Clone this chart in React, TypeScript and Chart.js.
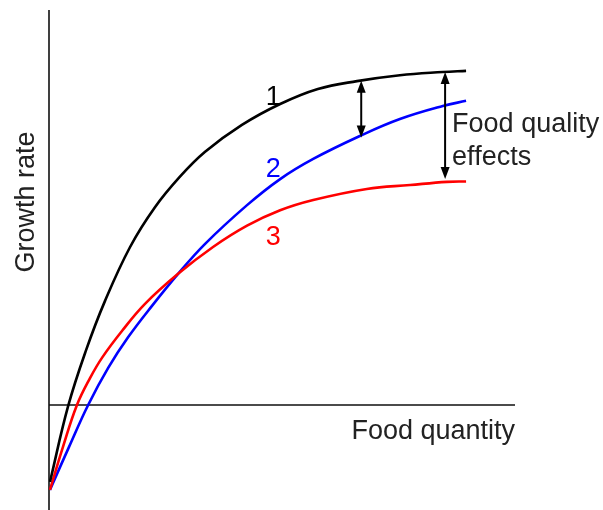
import React, { useEffect, useRef } from "react";
import { Chart, registerables } from "chart.js";

Chart.register(...registerables);

// Curve 1 (black)
const xCurve1 = [0.02, 0.41, 0.79, 1.2, 1.74, 2.27, 2.81, 3.35, 4.14, 4.96, 5.77, 6.61, 7.53, 8.45, 8.95];
const yCurve1 = [-1.95, -0.03, 1.37, 2.63, 4.0, 5.0, 5.78, 6.41, 7.09, 7.62, 8.0, 8.2, 8.35, 8.43, 8.46];

// Curve 2 (blue)
const xCurve2 = [0.02, 0.43, 0.84, 1.27, 1.7, 2.21, 2.77, 3.35, 4.25, 4.96, 5.67, 6.67, 7.53, 8.45, 8.95];
const yCurve2 = [-2.15, -1.06, 0, 0.94, 1.72, 2.51, 3.32, 4.08, 5.06, 5.72, 6.23, 6.81, 7.24, 7.57, 7.7];

// Curve 3 (red)
const xCurve3 = [0.02, 0.3, 0.6, 0.88, 1.14, 1.57, 2.06, 2.77, 3.52, 4.25, 4.96, 5.67, 6.82, 7.75, 8.54, 8.95];
const yCurve3 = [-2.15, -1.06, 0, 0.68, 1.2, 1.88, 2.56, 3.32, 4.0, 4.54, 4.93, 5.19, 5.47, 5.57, 5.65, 5.66];

// Food quality effect arrows
const arrowX = [6.7, 8.5];
const arrowTop = [8.21, 8.43];
const arrowBottom = [6.77, 5.72];

const curveLabels = ["1", "2", "3"];
const xTitle = "Food quantity";
const yTitle = "Growth rate";
const effectLabel = ["Food quality", "effects"];

const toPts = (xs: number[], ys: number[]) => xs.map((x, i) => ({ x, y: ys[i] }));

const FONT = "27px 'Liberation Sans', Arial, sans-serif";
const TEXT = "#222222";

const annotPlugin = {
  id: "annot",
  beforeDatasetsDraw(chart: any) {
    const { ctx, chartArea, scales } = chart;
    const x0 = scales.x.getPixelForValue(0);
    const y0 = scales.y.getPixelForValue(0);
    ctx.save();
    ctx.strokeStyle = "#111";
    ctx.lineWidth = 1.6;
    ctx.beginPath();
    ctx.moveTo(x0, chartArea.top);
    ctx.lineTo(x0, chartArea.bottom);
    ctx.moveTo(x0, y0);
    ctx.lineTo(chartArea.right, y0);
    ctx.stroke();
    ctx.restore();
  },
  afterDatasetsDraw(chart: any) {
    const { ctx, chartArea, scales } = chart;
    const sx = scales.x, sy = scales.y;
    ctx.save();
    ctx.strokeStyle = "#000";
    ctx.fillStyle = "#000";
    ctx.lineWidth = 2;
    const headL = 12, headW = 4.5;
    arrowX.forEach((ax, i) => {
      const px = sx.getPixelForValue(ax);
      const t = sy.getPixelForValue(arrowTop[i]);
      const b = sy.getPixelForValue(arrowBottom[i]);
      ctx.beginPath();
      ctx.moveTo(px, t + headL - 1);
      ctx.lineTo(px, b - headL + 1);
      ctx.stroke();
      ctx.beginPath();
      ctx.moveTo(px, t);
      ctx.lineTo(px - headW, t + headL);
      ctx.lineTo(px + headW, t + headL);
      ctx.closePath();
      ctx.fill();
      ctx.beginPath();
      ctx.moveTo(px, b);
      ctx.lineTo(px - headW, b - headL);
      ctx.lineTo(px + headW, b - headL);
      ctx.closePath();
      ctx.fill();
    });

    ctx.font = FONT;
    ctx.textBaseline = "alphabetic";
    const lx = sx.getPixelForValue(arrowX[1]) + 7;
    const ly = sy.getPixelForValue(arrowTop[1]);
    ctx.fillStyle = TEXT;
    ctx.textAlign = "left";
    ctx.fillText(effectLabel[0], lx, ly + 60);
    ctx.fillText(effectLabel[1], lx, ly + 93);

    const colors = ["#000000", "#0000ff", "#ff0000"];
    const labelY = [7.6, 5.78, 4.06];
    ctx.textAlign = "center";
    curveLabels.forEach((l, i) => {
      ctx.fillStyle = colors[i];
      ctx.fillText(l, sx.getPixelForValue(4.81), sy.getPixelForValue(labelY[i]));
    });

    ctx.fillStyle = TEXT;
    ctx.textAlign = "right";
    ctx.fillText(xTitle, chartArea.right, sy.getPixelForValue(0) + 34);

    ctx.translate(34, 202);
    ctx.rotate(-Math.PI / 2);
    ctx.textAlign = "center";
    ctx.fillText(yTitle, 0, 0);
    ctx.restore();
  },
};

export default function App() {
  const ref = useRef<HTMLCanvasElement>(null);
  useEffect(() => {
    document.body.style.margin = "0";
    const chart = new Chart(ref.current as HTMLCanvasElement, {
      type: "line",
      data: {
        datasets: [
          { data: toPts(xCurve1, yCurve1), borderColor: "#000000" },
          { data: toPts(xCurve3, yCurve3), borderColor: "#ff0000" },
          { data: toPts(xCurve2, yCurve2), borderColor: "#0000ff" },
        ].map((d) => ({
          ...d,
          borderWidth: 2.6,
          pointRadius: 0,
          fill: false,
          tension: 0.4,
        })),
      },
      options: {
        animation: false,
        responsive: false,
        layout: { padding: { left: 49, right: 88, top: 10, bottom: 0 } },
        plugins: { legend: { display: false }, tooltip: { enabled: false } },
        scales: {
          x: { type: "linear", min: 0, max: 10, display: false },
          y: { type: "linear", min: -2.658, max: 10, display: false },
        },
      },
      plugins: [annotPlugin],
    });
    return () => chart.destroy();
  }, []);
  return (
    <div style={{ position: "absolute", left: 0, top: 0, width: 603, height: 510, background: "#fff" }}>
      <canvas ref={ref} width={603} height={510} />
    </div>
  );
}
